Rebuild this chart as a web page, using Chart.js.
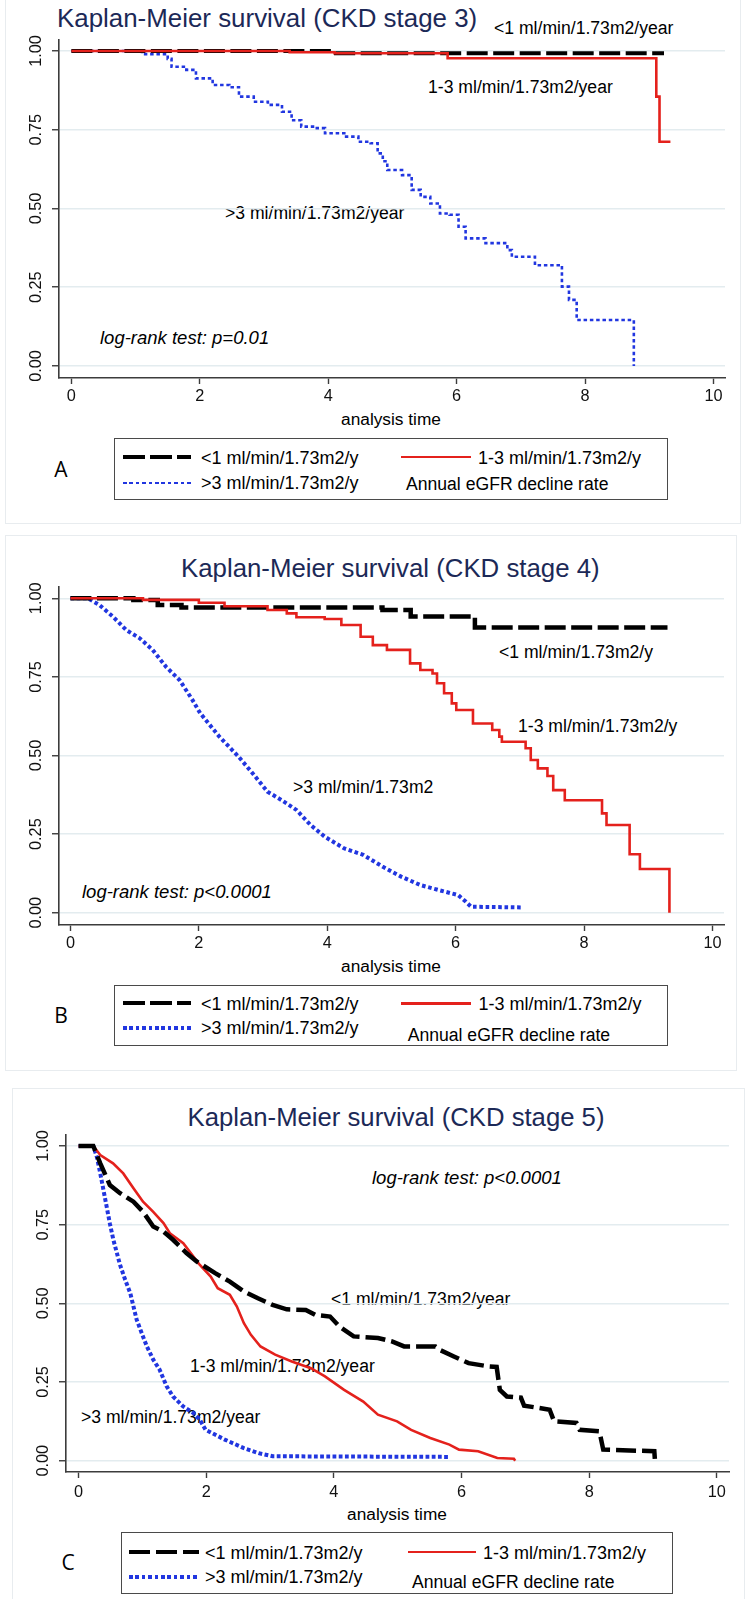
<!DOCTYPE html>
<html>
<head>
<meta charset="utf-8">
<script src="https://cdn.jsdelivr.net/npm/chart.js@4.4.1/dist/chart.umd.min.js"></script>
<style>
  html, body { margin:0; padding:0; background:#fff; }
  body { position:relative; width:751px; height:1599px; overflow:hidden; font-family:'Liberation Sans', Arial, Helvetica, sans-serif; }
  .frame { position:absolute; border:1px solid #e8ecef; box-sizing:border-box; z-index:0; }
  .lg { position:absolute; border:1.5px solid #4a4a4a; box-sizing:border-box; background:#fff; z-index:1; }
  .smp { position:absolute; z-index:2; }
  canvas { position:absolute; left:0; z-index:3; }
</style>
</head>
<body>
<script>
// ---------- shared axis data ----------
const xTicks = [0, 2, 4, 6, 8, 10];
const yTicks = [0, 0.25, 0.5, 0.75, 1];
const legendNames = ['<1 ml/min/1.73m2/y', '1-3 ml/min/1.73m2/y', '>3 ml/min/1.73m2/y'];
const legendTitle = 'Annual eGFR decline rate';
const titles = ['Kaplan-Meier survival (CKD stage 3)', 'Kaplan-Meier survival (CKD stage 4)', 'Kaplan-Meier survival (CKD stage 5)'];
const xTitle = 'analysis time';

// ---------- Panel A: CKD stage 3 ----------
const A_lt1_t = [0, 4.12, 9.23];
const A_lt1_s = [1, 0.993, 0.993];
const A_mid_t = [0, 3.4, 4.1, 5.86, 9.11, 9.16, 9.33];
const A_mid_s = [1, 0.996, 0.993, 0.977, 0.855, 0.712, 0.712];
const A_gt3_t = [0, 1.1, 1.5, 1.56, 1.79, 1.94, 2.2, 2.46, 2.61, 2.84, 3.06, 3.28, 3.43, 3.58, 3.8, 3.95, 4.25, 4.47, 4.66, 4.77, 4.85, 4.92, 5.15, 5.3, 5.44, 5.59, 5.74, 5.89, 6.03, 6.14, 6.45, 6.79, 6.86, 7.22, 7.64, 7.75, 7.87, 8.76];
const A_gt3_s = [1, 0.99, 0.975, 0.95, 0.94, 0.913, 0.892, 0.885, 0.855, 0.839, 0.829, 0.807, 0.78, 0.76, 0.755, 0.739, 0.728, 0.712, 0.707, 0.675, 0.65, 0.622, 0.606, 0.559, 0.537, 0.516, 0.484, 0.48, 0.442, 0.405, 0.39, 0.368, 0.347, 0.32, 0.252, 0.21, 0.146, 0];

// ---------- Panel B: CKD stage 4 ----------
const B_lt1_t = [0, 0.98, 1.36, 1.73, 4.86, 5.3, 6.3, 9.3];
const B_lt1_s = [1, 0.995, 0.979, 0.971, 0.963, 0.942, 0.907, 0.907];
const B_mid_t = [0, 1.13, 2.0, 2.4, 3.07, 3.37, 3.52, 3.96, 4.22, 4.52, 4.71, 4.93, 5.29, 5.45, 5.64, 5.71, 5.82, 5.94, 6.01, 6.27, 6.57, 6.68, 6.72, 7.09, 7.17, 7.28, 7.43, 7.52, 7.7, 8.28, 8.35, 8.71, 8.87, 9.33];
const B_mid_s = [1, 0.995, 0.986, 0.975, 0.963, 0.952, 0.94, 0.934, 0.915, 0.878, 0.851, 0.836, 0.793, 0.772, 0.761, 0.73, 0.698, 0.666, 0.645, 0.602, 0.581, 0.56, 0.544, 0.523, 0.486, 0.459, 0.435, 0.39, 0.358, 0.316, 0.279, 0.186, 0.139, 0];
const B_gt3_t = [0, 0.27, 0.45, 0.66, 0.87, 1.08, 1.28, 1.49, 1.7, 1.9, 2.02, 2.32, 2.62, 2.84, 3.07, 3.29, 3.52, 3.74, 3.96, 4.26, 4.56, 4.86, 5.15, 5.45, 5.74, 6.04, 6.16, 6.24, 7.02];
const B_gt3_s = [1, 1, 0.979, 0.942, 0.899, 0.873, 0.836, 0.782, 0.74, 0.677, 0.635, 0.56, 0.496, 0.443, 0.385, 0.358, 0.327, 0.279, 0.242, 0.205, 0.184, 0.147, 0.115, 0.088, 0.072, 0.056, 0.035, 0.019, 0.017];

// ---------- Panel C: CKD stage 5 ----------
const C_lt1_t = [0, 0.23, 0.34, 0.49, 0.65, 0.86, 1.01, 1.17, 1.33, 1.48, 1.69, 1.85, 2.14, 2.37, 2.59, 2.81, 3.04, 3.26, 3.56, 3.71, 3.94, 4.09, 4.31, 4.69, 4.91, 5.1, 5.59, 5.66, 5.88, 6.11, 6.41, 6.55, 6.6, 6.71, 6.93, 6.98, 7.38, 7.45, 7.8, 7.85, 8.16, 8.22, 9.02, 9.03];
const C_lt1_s = [1, 1, 0.945, 0.876, 0.85, 0.823, 0.791, 0.744, 0.728, 0.702, 0.66, 0.633, 0.596, 0.569, 0.538, 0.516, 0.495, 0.481, 0.479, 0.463, 0.458, 0.426, 0.395, 0.39, 0.379, 0.363, 0.363, 0.352, 0.331, 0.31, 0.3, 0.298, 0.225, 0.204, 0.2, 0.175, 0.162, 0.125, 0.12, 0.098, 0.093, 0.035, 0.03, 0];
const C_mid_t = [0, 0.23, 0.34, 0.54, 0.7, 0.86, 1.01, 1.17, 1.33, 1.43, 1.64, 1.9, 2.07, 2.18, 2.37, 2.48, 2.59, 2.7, 2.85, 3.08, 3.34, 3.64, 3.86, 4.16, 4.46, 4.69, 4.99, 5.21, 5.51, 5.81, 5.96, 6.26, 6.56, 6.82, 6.84];
const C_mid_s = [1, 1, 0.971, 0.945, 0.913, 0.866, 0.823, 0.791, 0.755, 0.723, 0.691, 0.622, 0.585, 0.548, 0.527, 0.49, 0.437, 0.4, 0.363, 0.337, 0.315, 0.294, 0.268, 0.225, 0.188, 0.146, 0.125, 0.098, 0.072, 0.051, 0.035, 0.03, 0.0085, 0.006, 0];
const C_gt3_t = [0, 0.23, 0.285, 0.34, 0.39, 0.44, 0.49, 0.545, 0.6, 0.65, 0.73, 0.81, 0.86, 0.91, 0.99, 1.07, 1.17, 1.27, 1.38, 1.48, 1.64, 1.8, 1.9, 1.99, 2.29, 2.59, 2.82, 3.04, 5.81];
const C_gt3_s = [1, 1, 0.966, 0.913, 0.86, 0.807, 0.754, 0.702, 0.66, 0.622, 0.575, 0.532, 0.49, 0.448, 0.405, 0.363, 0.321, 0.289, 0.236, 0.204, 0.172, 0.151, 0.13, 0.098, 0.067, 0.04, 0.024, 0.014, 0.012];

// ---------- styling ----------
const FONT = "'Liberation Sans', Arial, Helvetica, sans-serif";
const BLACK = '#000000', RED = '#e4211c', BLUE = '#2136e0', NAVY = '#1c2957';
Chart.defaults.font.family = FONT;

function km(t, s) { return t.map((v, i) => ({ x: v, y: s[i] })); }

function addText(txt, x, cy, o) {
  const d = document.createElement('div');
  d.textContent = txt;
  const fs = o.size;
  d.style.cssText = 'position:absolute;white-space:nowrap;z-index:' + (o.z || 1) + ';font-family:' + (o.family || FONT) +
    ';font-size:' + fs + 'px;line-height:' + fs + 'px;top:' + (cy - 0.49 * fs) + 'px;left:' + x + 'px;color:' + (o.color || '#000') +
    ';font-style:' + (o.italic ? 'italic' : 'normal') + ';' + (o.center ? 'transform:translateX(-50%);' : '');
  document.body.appendChild(d);
}
function addBox(cls, l, t, w, h) {
  const d = document.createElement('div');
  d.className = cls;
  d.style.left = l + 'px'; d.style.top = t + 'px'; d.style.width = w + 'px'; d.style.height = h + 'px';
  document.body.appendChild(d);
}
function addSample(kind, l, r, cy, thick) {
  const d = document.createElement('div');
  d.className = 'smp';
  let bg;
  if (kind === 0) bg = 'repeating-linear-gradient(to right,' + BLACK + ' 0 21.5px, transparent 21.5px 27px)';
  else if (kind === 1) bg = RED;
  else bg = 'repeating-linear-gradient(to right,' + BLUE + ' 0 3.6px, transparent 3.6px 6.4px)';
  d.style.cssText += 'left:' + l + 'px;top:' + (cy - thick / 2) + 'px;width:' + (r - l) + 'px;height:' + thick + 'px;background:' + bg + ';';
  document.body.appendChild(d);
}

function panel(top, height, area, xr, yr, sets, xPad) {
  const cv = document.createElement('canvas');
  cv.width = 751; cv.height = height;
  cv.style.top = top + 'px'; cv.style.width = '751px'; cv.style.height = height + 'px';
  document.body.appendChild(cv);
  const xH = 30;
  new Chart(cv, {
    type: 'line',
    data: { datasets: sets },
    options: {
      responsive: false, animation: false, devicePixelRatio: 1,
      layout: { padding: { left: 0, right: 751 - area.right, top: area.top, bottom: height - area.bottom - xH } },
      plugins: { legend: { display: false }, tooltip: { enabled: false }, title: { display: false } },
      elements: { point: { radius: 0, hoverRadius: 0 }, line: { tension: 0 } },
      scales: {
        x: {
          type: 'linear', min: xr[0], max: xr[1],
          afterBuildTicks: s => { s.ticks = xTicks.map(v => ({ value: v })); },
          afterFit: s => { s.height = xH; },
          grid: { display: true, drawOnChartArea: false, drawTicks: true, tickLength: 6, tickColor: '#3c3c3c', tickWidth: 1.4 },
          border: { display: true, color: '#3c3c3c', width: 1.6 },
          ticks: { autoSkip: false, maxRotation: 0, minRotation: 0, padding: xPad, color: '#111', font: { size: 16.3 }, callback: v => String(v) }
        },
        y: {
          type: 'linear', min: yr[0], max: yr[1],
          afterBuildTicks: s => { s.ticks = yTicks.map(v => ({ value: v })); },
          afterFit: s => { s.width = area.left; },
          grid: { display: true, drawOnChartArea: true, color: '#e3ecef', lineWidth: 1.5, drawTicks: true, tickLength: 7, tickColor: '#3c3c3c', tickWidth: 1.4 },
          border: { display: true, color: '#3c3c3c', width: 1.6 },
          ticks: { minRotation: 90, maxRotation: 90, crossAlign: 'center', padding: 0, color: '#111', font: { size: 16.3 }, callback: v => Number(v).toFixed(2) }
        }
      }
    }
  });
}

function ds(label, t, s, color, width, dash, stepped) {
  return { label, data: km(t, s), borderColor: color, borderWidth: width, borderDash: dash, borderCapStyle: 'butt',
           stepped: stepped, fill: false, pointRadius: 0, tension: 0 };
}

// ---------- frames ----------
addBox('frame', 5, -1, 736, 525);
addBox('frame', 5, 535, 732, 536);
addBox('frame', 12, 1088, 733, 530);

// ---------- Panel A ----------
addText(titles[0], 57, 18.3, { size: 25.9, color: NAVY });
addText('<1 ml/min/1.73m2/year', 494, 29, { size: 17.6 });
addText('1-3 ml/min/1.73m2/year', 428, 88, { size: 17.6 });
addText('>3 ml/min/1.73m2/year', 225, 214, { size: 17.6 });
addText('log-rank test: p=0.01', 100, 338, { size: 18.5, italic: true });
addText(xTitle, 391, 419, { size: 17.3, center: true });
panel(0, 412, { left: 59, right: 725, top: 40, bottom: 378 }, [-0.193, 10.18], [-0.0381, 1.0349], [
  ds(legendNames[1], A_mid_t, A_mid_s, RED, 2.6, [], true),
  ds(legendNames[0], A_lt1_t, A_lt1_s, BLACK, 4, [21, 5.5], true),
  ds(legendNames[2], A_gt3_t, A_gt3_s, BLUE, 2.6, [3.5, 2.8], true)
], 3);
addBox('lg', 114, 438, 554, 62);
addText('A', 61, 469.5, { size: 21, family: "'Open Sans', 'DejaVu Sans', sans-serif", center: true });
addSample(0, 123, 191, 456.5, 4);
addSample(1, 401, 471, 457, 2.8);
addSample(2, 123, 191, 483, 2.4);
addText(legendNames[0], 201, 458, { size: 18, z: 2 });
addText(legendNames[1], 478, 458, { size: 18, z: 2 });
addText(legendNames[2], 201, 483, { size: 18, z: 2 });
addText(legendTitle, 406, 485, { size: 17.6, z: 2 });

// ---------- Panel B ----------
addText(titles[1], 181, 569, { size: 25.8, color: NAVY });
addText('<1 ml/min/1.73m2/y', 499, 652.7, { size: 17.6 });
addText('1-3 ml/min/1.73m2/y', 518, 727, { size: 17.6 });
addText('>3 ml/min/1.73m2', 293, 787.7, { size: 17.6 });
addText('log-rank test: p<0.0001', 82, 891.7, { size: 18.5, italic: true });
addText(xTitle, 391, 966, { size: 17.3, center: true });
panel(560, 400, { left: 59, right: 724, top: 27, bottom: 365 }, [-0.178, 10.18], [-0.039, 1.036], [
  ds(legendNames[1], B_mid_t, B_mid_s, RED, 2.6, [], true),
  ds(legendNames[0], B_lt1_t, B_lt1_s, BLACK, 4.5, [21, 5.5], true),
  ds(legendNames[2], B_gt3_t, B_gt3_s, BLUE, 4, [3.6, 2.7], false)
], 3);
addBox('lg', 114, 985, 553.5, 61);
addText('B', 61, 1015, { size: 21, family: "'Open Sans', 'DejaVu Sans', sans-serif", center: true });
addSample(0, 123, 191, 1003.3, 4);
addSample(1, 401, 471, 1003.5, 2.8);
addSample(2, 123, 191, 1028.3, 4);
addText(legendNames[0], 201, 1004.3, { size: 18, z: 2 });
addText(legendNames[1], 478.5, 1004.3, { size: 18, z: 2 });
addText(legendNames[2], 201, 1028.3, { size: 18, z: 2 });
addText(legendTitle, 407.7, 1036, { size: 17.6, z: 2 });

// ---------- Panel C ----------
addText(titles[2], 187.6, 1117.3, { size: 25.7, color: NAVY });
addText('log-rank test: p<0.0001', 372, 1178.3, { size: 18.5, italic: true });
addText('<1 ml/min/1.73m2/year', 331, 1299.3, { size: 17.6 });
addText('1-3 ml/min/1.73m2/year', 190, 1366.7, { size: 17.6 });
addText('>3 ml/min/1.73m2/year', 81, 1417.3, { size: 17.6 });
addText(xTitle, 397, 1514, { size: 17.3, center: true });
panel(1100, 410, { left: 66, right: 729, top: 35, bottom: 372 }, [-0.197, 10.19], [-0.036, 1.035], [
  ds(legendNames[0], C_lt1_t, C_lt1_s, BLACK, 4.5, [20, 6], false),
  ds(legendNames[1], C_mid_t, C_mid_s, RED, 2.6, [], false),
  ds(legendNames[2], C_gt3_t, C_gt3_s, BLUE, 4, [3.8, 2.4], false)
], 5);
addBox('lg', 120.6, 1531.7, 552.4, 62.3);
addText('C', 68, 1562.3, { size: 21, family: "'Open Sans', 'DejaVu Sans', sans-serif", center: true });
addSample(0, 129, 198.6, 1552, 4);
addSample(1, 407.7, 476, 1552, 2.8);
addSample(2, 129, 198.6, 1577, 4);
addText(legendNames[0], 205, 1552.7, { size: 18, z: 2 });
addText(legendNames[1], 483, 1552.7, { size: 18, z: 2 });
addText(legendNames[2], 205, 1576.7, { size: 18, z: 2 });
addText(legendTitle, 412, 1582.7, { size: 17.6, z: 2 });
</script>
</body>
</html>
